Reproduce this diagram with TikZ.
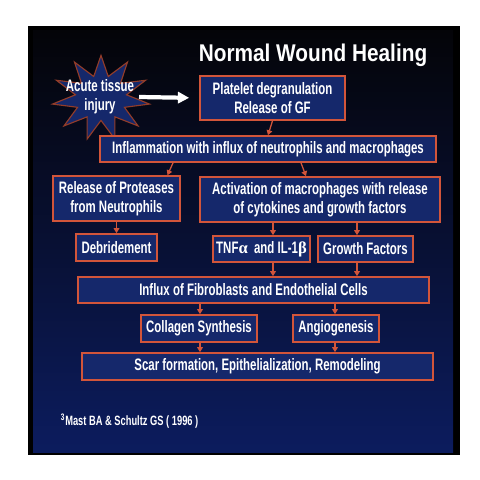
\documentclass[tikz,border=0pt]{standalone}
\usepackage{fontspec}
\setmainfont{Liberation Sans}
\newfontfamily\boxfont{Liberation Sans}[FakeStretch=0.69]
\newfontfamily\titlefont{Liberation Sans}[FakeStretch=0.86]
\newfontfamily\symfont{Liberation Serif}
\usetikzlibrary{positioning, arrows.meta, shapes.geometric, calc}
\definecolor{slidetop}{HTML}{040408}
\definecolor{slidebot}{HTML}{0C1C5E}
\definecolor{boxfill}{HTML}{15286B}
\definecolor{edge}{HTML}{D2553A}
\newcommand{\gr}[1]{{\symfont #1}}

\tikzset{
  box/.style={draw=edge, line width=1.2pt, fill=boxfill, text=white,
    font=\boxfont\bfseries\fontsize{11.8}{13.8}\selectfont, align=center, inner sep=0pt},
  wh/.style 2 args={minimum width=#1*0.025cm, minimum height=#2*0.025cm},
  link/.style={draw=edge, line width=0.9pt, -{Triangle[length=3.5pt, width=4pt]}},
}

\begin{document}
\begin{tikzpicture}[x=0.025cm, y=-0.025cm]
  \useasboundingbox (0,0) rectangle (480,480);
  % slide background
  \fill[black] (28,26) rectangle (460,455);
  \shade[top color=slidetop, bottom color=slidebot] (33,30) rectangle (453,452);

  \node[font=\titlefont\bfseries\fontsize{17.2}{19}\selectfont, text=white] (title) at (313,55) {Normal Wound Healing};

  % starburst
  \node[star, star points=11, star point ratio=1.9, draw=edge!70!black, fill=boxfill,
        minimum size=98*0.025cm, inner sep=0pt, line width=0.8pt, yscale=0.87] (burst) at (101,98) {};
  \node[font=\boxfont\bfseries\fontsize{11.8}{13.8}\selectfont, text=white, align=center]
    (injury) at (100,97) {Acute tissue\\injury};

  % boxes
  \node[box, wh={145}{44}] (plate) at (272.5,98) {Platelet degranulation\\Release of GF};
  \node[box, wh={336}{26}] (inflam) at (268,149) {Inflammation with influx of neutrophils and macrophages};
  \node[box, wh={127}{45}] (protease) at (116.5,198.5) {Release of Proteases\\from Neutrophils};
  \node[box, wh={240}{45}] (activ) at (320,199.5) {Activation of macrophages with release\\of cytokines and growth factors};
  \node[box, wh={81}{27}] (debrid) at (116.5,247.5) {Debridement};
  \node[box, wh={97}{26}] (tnf) at (261.5,249) {TNF\gr{α}\ \ and IL-1\gr{β}};
  \node[box, wh={95}{26}] (gf) at (365.5,249) {Growth Factors};
  \node[box, wh={351}{26}] (influx) at (253.5,290) {Influx of Fibroblasts and Endothelial Cells};
  \node[box, wh={116}{27}] (collagen) at (199,328.5) {Collagen Synthesis};
  \node[box, wh={86}{27}] (angio) at (336,328.5) {Angiogenesis};
  \node[box, wh={351}{27}] (scar) at (257.5,366.5) {Scar formation, Epithelialization, Remodeling};

  \node[font=\boxfont\bfseries\fontsize{9.6}{11}\selectfont, text=white, anchor=west]
    (cite) at (56,421) {\textsuperscript{3}Mast BA \& Schultz GS ( 1996 )};

  % arrow columns
  \coordinate (colA) at (273,0);
  \coordinate (colB) at (357,0);
  \coordinate (colC) at (200,0);
  \coordinate (colD) at (335,0);

  % connectors
  \draw[white, line width=3pt, shorten >=0.25cm, -{Triangle[length=8pt, width=8pt]}] (injury.east) -- (plate.west);
  \draw[link] (plate.south) -- (inflam.north);
  \draw[link] ($(inflam.south)+(-95,0)$) -- ($(protease.north)+(51,0)$);
  \draw[link] ($(inflam.south)+(33,0)$) -- ($(activ.north)+(-14,0)$);
  \draw[link] (protease.south) -- (debrid.north);
  \draw[link] (activ.south -| colA) -- (tnf.north -| colA);
  \draw[link] (activ.south -| colB) -- (gf.north -| colB);
  \draw[link] (tnf.south -| colA) -- (influx.north -| colA);
  \draw[link] (gf.south -| colB) -- (influx.north -| colB);
  \draw[link] (influx.south -| colC) -- (collagen.north -| colC);
  \draw[link] (influx.south -| colD) -- (angio.north -| colD);
  \draw[link] (collagen.south -| colC) -- (scar.north -| colC);
  \draw[link] (angio.south -| colD) -- (scar.north -| colD);
\end{tikzpicture}
\end{document}
